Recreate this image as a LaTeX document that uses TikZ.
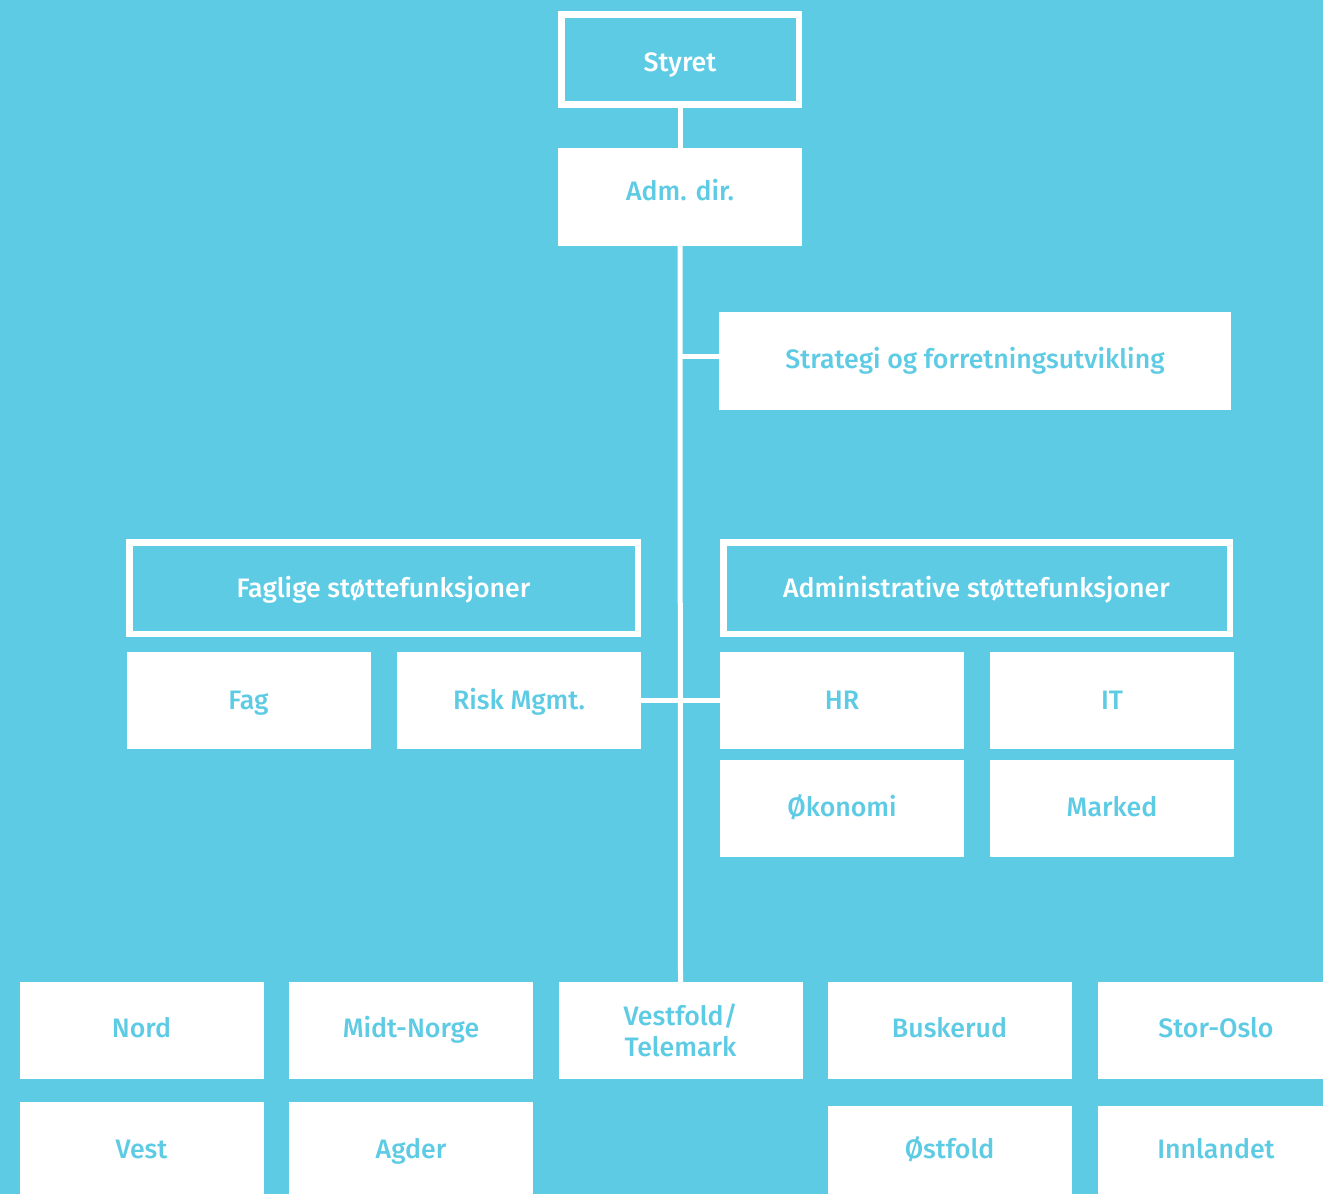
\documentclass[tikz,border=0pt]{standalone}
\usepackage{fontspec}
\setmainfont{Fira Sans}
\newfontfamily\labfont{Fira Sans Medium}
\definecolor{sky}{RGB}{94,203,229}
\tikzset{
  x=1pt, y=-1pt,
  labtext/.style={font=\labfont\fontsize{26.7}{31}\selectfont, text height=14pt, text depth=0pt},
  wbox/.style={labtext, fill=white, draw=none, minimum width=244pt, minimum height=97pt, inner sep=0pt, align=center, text=sky},
  bbox/.style={labtext, fill=sky, draw=white, line width=6.5pt, inner sep=0pt, align=center, text=white},
  conn/.style={draw=white, line width=5pt}
}
\begin{document}
\begin{tikzpicture}
\fill[sky] (0,0) rectangle (1323,1194);
\useasboundingbox (0,0) rectangle (1323,1194);
\begin{scope}
\clip (0,0) rectangle (1323,1194);
\node[bbox, minimum width=237.5pt, minimum height=90pt, text height=23pt] (styret) at (680,59.5) {Styret};
\node[wbox, minimum height=98pt, text height=6pt] (adm) at (680,197) {Adm. dir.};
\node[wbox, minimum width=512pt, minimum height=98pt] (strat) at (975,361) {Strategi og forretningsutvikling};
\node[bbox, minimum width=508.5pt, minimum height=91.5pt, text height=18pt] (fag0) at (383.5,588) {Faglige støttefunksjoner};
\node[bbox, minimum width=506.5pt, minimum height=91.5pt, text height=18pt] (adm0) at (976.5,588) {Administrative støttefunksjoner};
\node[wbox, text height=18pt] (fag) at (248.5,700) {Fag};
\node[wbox, text height=18pt] (risk) at (519,700) {Risk Mgmt.};
\node[wbox, text height=18pt] (hr) at (842,700) {HR};
\node[wbox, text height=18pt] (it) at (1112,700) {IT};
\node[wbox, text height=16pt] (oko) at (842,808.5) {Økonomi};
\node[wbox, text height=16pt] (mark) at (1112,808.5) {Marked};
\node[wbox, text height=13pt] (nord) at (141.5,1030.5) {Nord};
\node[wbox, text height=13pt] (midt) at (411,1030.5) {Midt-Norge};
\node[wbox, text height={}, text depth={}] (vf) at (680.5,1030.5) {Vestfold/\\Telemark};
\node[wbox, text height=13pt] (busk) at (949.5,1030.5) {Buskerud};
\node[wbox, text height=13pt, minimum width=236pt] (oslo) at (1216,1030.5) {Stor-Oslo};
\node[wbox, minimum height=96pt, anchor=north, text height=16pt] (vest) at (141.5,1102) {Vest};
\node[wbox, minimum height=96pt, anchor=north, text height=16pt] (agder) at (411,1102) {Agder};
\node[wbox, minimum height=96pt, anchor=north, text height=8pt] (ost) at (949.5,1106) {Østfold};
\node[wbox, minimum height=96pt, anchor=north, text height=8pt, minimum width=236pt] (inn) at (1216,1106) {Innlandet};
\coordinate (sj) at (680,356);
\draw[conn] (styret.south) -- (adm.north);
\draw[conn] (adm.south) -- (vf.north);
\draw[conn] (sj) -- (strat.west |- sj);
\draw[conn] (risk.east) -- (hr.west);
\end{scope}
\end{tikzpicture}
\end{document}
